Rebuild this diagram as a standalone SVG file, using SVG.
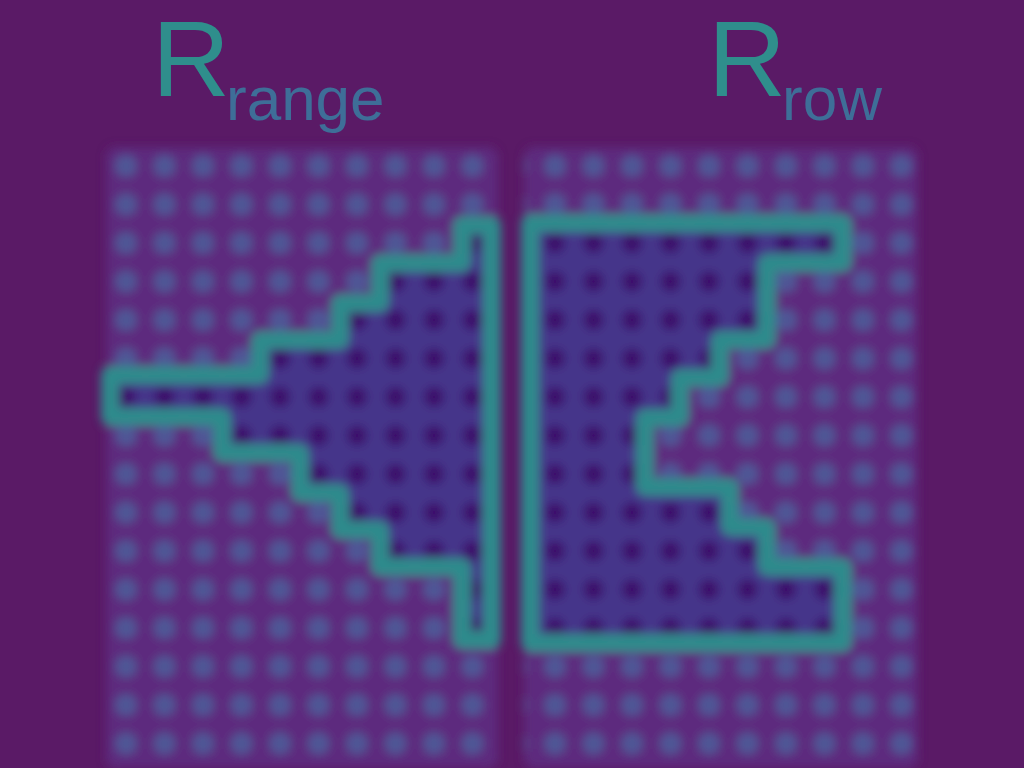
<svg xmlns="http://www.w3.org/2000/svg" width="1024" height="768" viewBox="0 0 1024 768">
  <defs>
    <style>
      .panel { fill: #5d2c7e; }
      .dot { fill: #4f5796; }
      .ddot { fill: #3c0b6a; }
      .inner { fill: #45348a; }
      .outline { fill: none; stroke: #2f8b8c; stroke-width: 18; stroke-linejoin: round; stroke-linecap: round; }
      .big { font-family: "Liberation Sans", Arial, sans-serif; font-size: 108px; fill: #2f8e8c; }
      .sub { font-family: "Liberation Sans", Arial, sans-serif; font-size: 62px; fill: #3e6e98; }
    </style>
    <filter id="soft" x="-5%" y="-5%" width="110%" height="110%">
      <feGaussianBlur stdDeviation="5"/>
    </filter>
    <clipPath id="clipL">
      <path d="M462,225 H492 V640 H462 V567 H380 V530 H340 V493 H300 V453 H222 V417 H110 V375 H260 V340 H340 V303 H380 V263 H462 Z"/>
    </clipPath>
    <clipPath id="clipR">
      <path d="M530,223 H843 V263 H767 V340 H720 V378 H680 V418 H645 V487 H730 V527 H767 V567 H843 V643 H530 Z"/>
    </clipPath>
    <pattern id="dotsL" x="106.75" y="146.75" width="38.5" height="38.5" patternUnits="userSpaceOnUse">
      <circle cx="19.25" cy="19.25" r="11" class="dot"/>
    </pattern>
    <pattern id="ddotsL" x="106.75" y="146.75" width="38.5" height="38.5" patternUnits="userSpaceOnUse">
      <circle cx="19.25" cy="19.25" r="10" class="ddot"/>
    </pattern>
    <pattern id="dotsR" x="535.75" y="146.75" width="38.5" height="38.5" patternUnits="userSpaceOnUse">
      <circle cx="19.25" cy="19.25" r="11" class="dot"/>
    </pattern>
    <pattern id="ddotsR" x="535.75" y="146.75" width="38.5" height="38.5" patternUnits="userSpaceOnUse">
      <circle cx="19.25" cy="19.25" r="10" class="ddot"/>
    </pattern>
  </defs>

  <rect x="0" y="0" width="1024" height="768" fill="#5a1a66"/>

  <g filter="url(#soft)">
    <g id="grid-left">
      <rect class="panel" x="106" y="147" width="392" height="621" rx="10"/>
      <rect x="106" y="147" width="392" height="621" fill="url(#dotsL)"/>
      <g clip-path="url(#clipL)">
        <rect class="inner" x="100" y="215" width="400" height="435"/>
        <rect x="100" y="215" width="400" height="435" fill="url(#ddotsL)"/>
      </g>
    </g>
    <g id="grid-right">
      <rect class="panel" x="524" y="147" width="394" height="621" rx="10"/>
      <rect x="524" y="147" width="394" height="621" fill="url(#dotsR)"/>
      <g clip-path="url(#clipR)">
        <rect class="inner" x="520" y="215" width="330" height="435"/>
        <rect x="520" y="215" width="330" height="435" fill="url(#ddotsR)"/>
      </g>
    </g>
    <g id="connectors">
      <path id="region-left" class="outline" d="M462,225 H492 V640 H462 V567 H380 V530 H340 V493 H300 V453 H222 V417 H110 V375 H260 V340 H340 V303 H380 V263 H462 Z"/>
      <path id="region-right" class="outline" d="M530,223 H843 V263 H767 V340 H720 V378 H680 V418 H645 V487 H730 V527 H767 V567 H843 V643 H530 Z"/>
    </g>
  </g>

  <g id="label-left">
    <text class="big" x="152" y="96">R</text>
    <text class="sub" x="226" y="120">range</text>
  </g>
  <g id="label-right">
    <text class="big" x="708" y="96">R</text>
    <text class="sub" x="782" y="120">row</text>
  </g>
</svg>
